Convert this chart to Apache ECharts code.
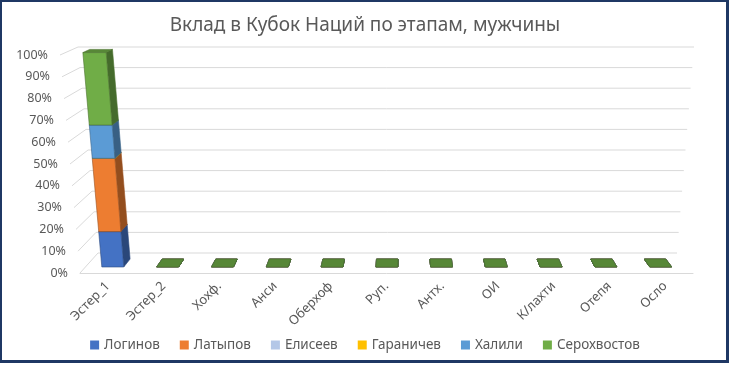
<!DOCTYPE html>
<html>
<head>
<meta charset="utf-8">
<script src="https://cdn.jsdelivr.net/npm/echarts@6/dist/echarts.min.js"></script>
<style>
  html, body { margin: 0; padding: 0; background: #ffffff; }
  #chart { position: absolute; left: 0; top: 0; width: 730px; height: 366px; }
  #frame { position: absolute; left: 0; top: 0; width: 724px; height: 358px;
           border-left: 2px solid #1f3864; border-top: 2px solid #1f3864;
           border-right: 3px solid #1f3864; border-bottom: 3px solid #1f3864;
           pointer-events: none; }
</style>
</head>
<body>
<div id="chart"></div>
<div id="frame"></div>
<script>
// ---------- data ----------
const categories = ['Эстер_1', 'Эстер_2', 'Хохф.', 'Анси', 'Оберхоф', 'Руп.', 'Антх.', 'ОИ', 'К/лахти', 'Отепя', 'Осло'];
const seriesNames = ['Логинов', 'Латыпов', 'Елисеев', 'Гараничев', 'Халили', 'Серохвостов'];
const loginov      = [16.5, 0, 0, 0, 0, 0, 0, 0, 0, 0, 0];
const latypov      = [34.2, 0, 0, 0, 0, 0, 0, 0, 0, 0, 0];
const eliseev      = [0, 0, 0, 0, 0, 0, 0, 0, 0, 0, 0];
const garanichev   = [0, 0, 0, 0, 0, 0, 0, 0, 0, 0, 0];
const khalili      = [15.5, 0, 0, 0, 0, 0, 0, 0, 0, 0, 0];
const serokhvostov = [33.8, 0, 0, 0, 0, 0, 0, 0, 0, 0, 0];
const tickLabels = ['0%', '10%', '20%', '30%', '40%', '50%', '60%', '70%', '80%', '90%', '100%'];

// ---------- styles ----------
const seriesColors = ['#4472C4', '#ED7D31', '#B4C7E7', '#FFC000', '#5B9BD5', '#70AD47'];
const textColor = '#595959';
const gridColor = '#d9d9d9';
const FONT = 'Noto Sans';

const allValues = [loginov, latypov, eliseev, garanichev, khalili, serokhvostov];

// 100% stacking table
const totals = categories.map((c, i) => allValues.reduce((s, arr) => s + arr[i], 0));
const stacked = allValues.map(() => []);
categories.forEach((c, i) => {
  let cum = 0;
  allValues.forEach((arr, k) => {
    const t = totals[i];
    const start = t ? cum / t : 0;
    cum += arr[i];
    const end = t ? cum / t : 0;
    stacked[k].push([i, start, end]);
  });
});
const tickData = tickLabels.map(l => [0, parseFloat(l) / 100]);

// ---------- 3D perspective helper (maps grid fractions to screen) ----------
function proj(r, u, v, d) {
  const L = r.x, R = r.x + r.width, T = r.y, B = r.y + r.height;
  const F = { bl: [L, B], br: [R, B], tl: [L - 20, T], tr: [R + 18, T] };
  const K = { bl: [L + 18, B - 20], br: [R - 16, B - 20], tl: [L - 2, T - 8], tr: [R + 1, T - 8] };
  const bil = (c) => {
    const bx = c.bl[0] + (c.br[0] - c.bl[0]) * u, by = c.bl[1] + (c.br[1] - c.bl[1]) * u;
    const tx = c.tl[0] + (c.tr[0] - c.tl[0]) * u, ty = c.tl[1] + (c.tr[1] - c.tl[1]) * u;
    return [bx + (tx - bx) * v, by + (ty - by) * v];
  };
  const f = bil(F), k = bil(K);
  return [f[0] + (k[0] - f[0]) * d, f[1] + (k[1] - f[1]) * d];
}

function shade(hex, f) {
  const n = parseInt(hex.slice(1), 16);
  const r = Math.round(((n >> 16) & 255) * f), g = Math.round(((n >> 8) & 255) * f), b = Math.round((n & 255) * f);
  return 'rgb(' + r + ',' + g + ',' + b + ')';
}

function gridRender(params, api) {
  const r = params.coordSys;
  const c = api.coord([0, api.value(1)]);
  const v = (r.y + r.height - c[1]) / r.height;
  const fp = proj(r, 0, v, 0);
  const children = [
    { type: 'polyline', shape: { points: [proj(r, 0, v, 1), proj(r, 1, v, 1)] },
      style: { stroke: gridColor, lineWidth: 1, fill: null } },
    { type: 'polyline', shape: { points: [fp, proj(r, 0, v, 1)] },
      style: { stroke: gridColor, lineWidth: 1, fill: null } },
    { type: 'text', x: fp[0] - 12, y: fp[1],
      style: { text: tickLabels[params.dataIndex], fill: textColor, font: '12.5px "' + FONT + '"',
               align: 'right', verticalAlign: 'middle' } }
  ];
  return { type: 'group', children };
}

function barRender(params, api) {
  const r = params.coordSys;
  const cat = api.value(0);
  const c0 = api.coord([cat, api.value(1)]);
  const c1 = api.coord([cat, api.value(2)]);
  const bw = api.size([1, 0])[0];
  const u0 = (c0[0] - bw * 0.2 - r.x) / r.width;
  const u1 = (c0[0] + bw * 0.2 - r.x) / r.width;
  const v0 = (r.y + r.height - c0[1]) / r.height;
  const v1 = (r.y + r.height - c1[1]) / r.height;
  const d0 = 0.3, d1 = 0.7;
  const P = (u, v, d) => proj(r, u, v, d);
  const color = api.visual('color');
  const edge = shade(color, 0.65);
  const children = [];
  const face = (pts, fill) => children.push({ type: 'polygon', shape: { points: pts },
      style: { fill: fill, stroke: edge, lineWidth: 0.6, lineJoin: 'round' } });
  if (P(u1, v0, d1)[0] > P(u1, v0, d0)[0]) {
    face([P(u1, v0, d0), P(u1, v0, d1), P(u1, v1, d1), P(u1, v1, d0)], shade(color, 0.62));
  }
  if (P(u0, v0, d1)[0] < P(u0, v0, d0)[0]) {
    face([P(u0, v0, d0), P(u0, v0, d1), P(u0, v1, d1), P(u0, v1, d0)], shade(color, 0.62));
  }
  face([P(u0, v1, d0), P(u1, v1, d0), P(u1, v1, d1), P(u0, v1, d1)], shade(color, 0.78));
  if (v1 > v0) {
    face([P(u0, v0, d0), P(u1, v0, d0), P(u1, v1, d0), P(u0, v1, d0)], color);
  }
  return { type: 'group', children };
}

const chart = echarts.init(document.getElementById('chart'), null, { renderer: 'canvas' });

const series = [{
  type: 'custom', name: '__grid', renderItem: gridRender, data: tickData, clip: false,
  encode: { x: 0, y: 1 }, z: 1, silent: true
}];
seriesNames.forEach((name, k) => {
  series.push({
    type: 'custom', name: name, renderItem: barRender, data: stacked[k], clip: false,
    encode: { x: 0, y: [1, 2] }, itemStyle: { color: seriesColors[k] }, z: 2
  });
});

chart.setOption({
  animation: false,
  textStyle: { fontFamily: FONT },
  title: {
    text: 'Вклад в Кубок Наций по этапам, мужчины', left: 'center', top: 11,
    textStyle: { fontFamily: FONT, fontSize: 19, fontWeight: 'normal', color: textColor }
  },
  legend: {
    data: seriesNames, left: 'center', top: 333, icon: 'rect', itemWidth: 9, itemHeight: 9,
    itemGap: 20, textStyle: { fontFamily: FONT, fontSize: 13.5, color: textColor }
  },
  grid: { left: 80, right: 37, top: 55, bottom: 93 },
  xAxis: {
    type: 'category', data: categories,
    axisLine: { show: true, lineStyle: { color: gridColor, width: 1 } },
    axisTick: { show: false },
    axisLabel: { rotate: 45, interval: 0, margin: 11, fontSize: 13, color: textColor, fontFamily: FONT },
    splitLine: { show: false }
  },
  yAxis: { type: 'value', min: 0, max: 1, interval: 0.1, show: false },
  series: series
});
</script>
</body>
</html>
